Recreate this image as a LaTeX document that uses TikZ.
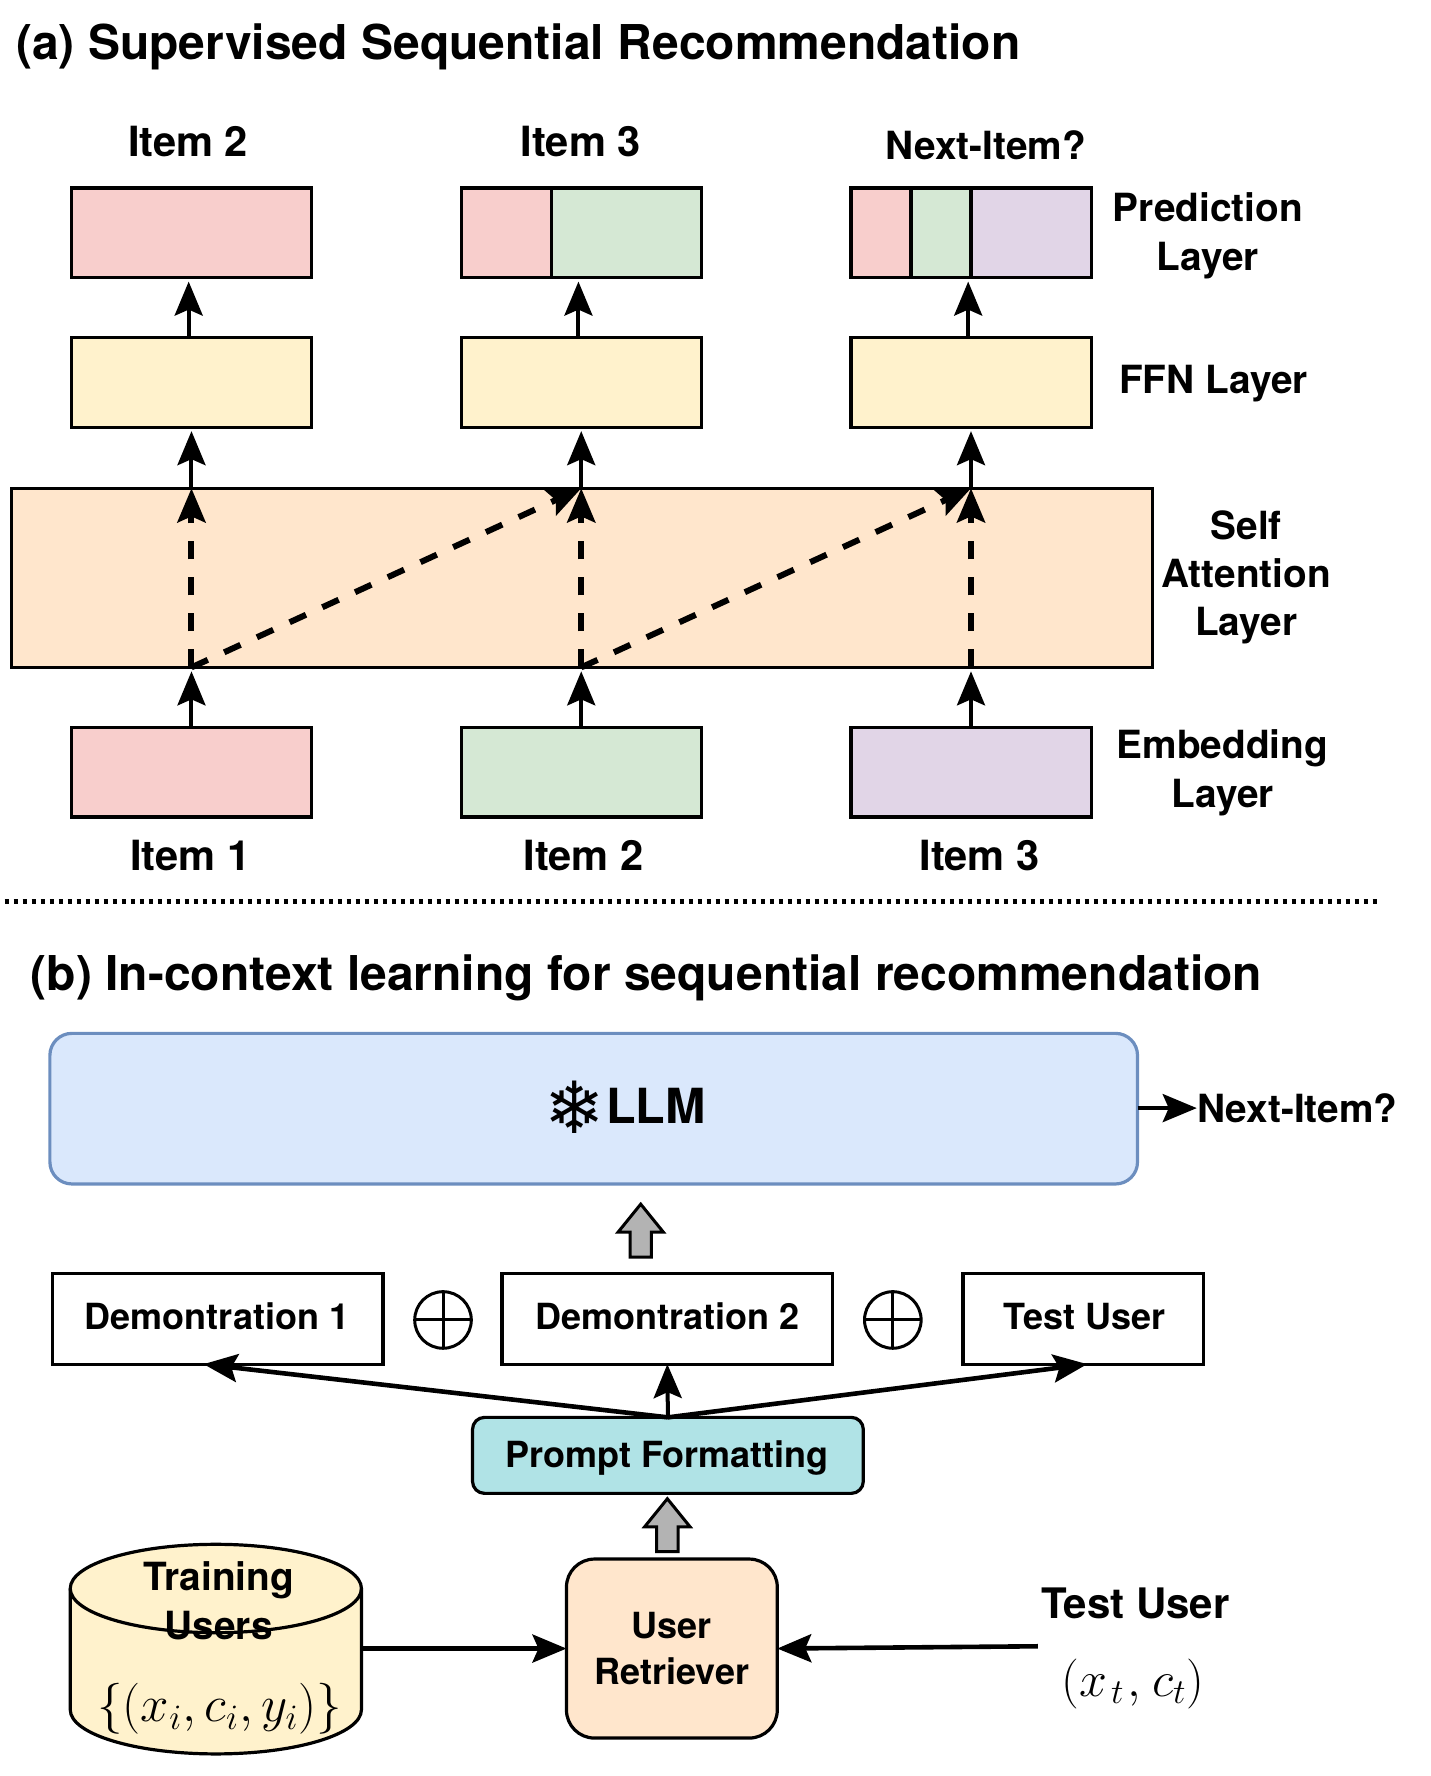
\documentclass[tikz,border=0pt]{standalone}
\usepackage{fix-cm}
\usepackage{fontspec}
\setmainfont{TeX Gyre Heros}
\newfontfamily\snowfont{DejaVu Sans}
\usetikzlibrary{arrows.meta,shapes.arrows}
\definecolor{cpink}{HTML}{F8CECC}
\definecolor{cgreen}{HTML}{D5E8D4}
\definecolor{cpurple}{HTML}{E1D5E7}
\definecolor{cyellow}{HTML}{FFF2CC}
\definecolor{corange}{HTML}{FFE6CC}
\definecolor{cblue}{HTML}{DAE8FC}
\definecolor{cbluedraw}{HTML}{6C8EBF}
\definecolor{cteal}{HTML}{B0E3E6}
\definecolor{cgrey}{HTML}{B3B3B3}
\tikzset{
	box/.style={draw,line width=1.6pt,inner sep=0pt,outer sep=0pt,minimum width=120.1pt,minimum height=44.75pt},
	wbox/.style={draw,line width=1.6pt,inner sep=0pt,outer sep=0pt,minimum height=45.3pt,fill=white},
	lab/.style={font=\bfseries\fontsize{19.4}{24.2}\selectfont,align=center,inner sep=0pt},
	smalllab/.style={font=\bfseries\fontsize{18}{22.6}\selectfont,align=center,inner sep=0pt},
	itemlab/.style={font=\bfseries\fontsize{20.8}{24}\selectfont,inner sep=0pt},
	ttl/.style={font=\bfseries\fontsize{24}{28}\selectfont,inner sep=0pt,anchor=base west},
	arr/.style={-{Stealth[length=17pt,width=14pt,inset=3pt]},line width=2pt},
	fanarr/.style={arr,line width=2.3pt},
	darr/.style={arr,line width=3pt,dash pattern=on 9pt off 9pt},
	oplusmark/.style={circle,draw,line width=1.5pt,minimum size=28.3pt,inner sep=0pt,
		path picture={\draw[line width=1.5pt](path picture bounding box.north)--(path picture bounding box.south)(path picture bounding box.west)--(path picture bounding box.east);}},
	gbar/.style={single arrow,draw,line width=1.5pt,fill=cgrey,shape border rotate=90,inner sep=4.6pt,
		minimum height=26.5pt,single arrow head extend=6pt,single arrow tip angle=78,single arrow head indent=0pt},
}
\begin{document}
\begin{tikzpicture}[x=.5665pt,y=-.5665pt]
	\useasboundingbox(0,0)rectangle(1263,1567.5);
	% part a
	\node[ttl](titleA)at(14,52.5){(a) Supervised Sequential Recommendation};
	\node[box,fill=cpink](pred1)at(169,205.5){};
	\node[box,fill=cgreen](pred2)at(513,205.5){};
	\node[box,fill=cpurple](pred3)at(857,205.5){};
	\coordinate(S2)at(487,0);
	\coordinate(S3)at(804,0);
	\coordinate(S4)at(857,0);
	\draw[line width=1.6pt,fill=cpink](pred2.north west)rectangle(S2|-pred2.south);
	\draw[line width=1.6pt,fill=cpink](pred3.north west)rectangle(S3|-pred3.south);
	\draw[line width=1.6pt,fill=cgreen](S3|-pred3.north)rectangle(S4|-pred3.south);
	\foreach\n/\x in{1/169,2/513,3/857}{
		\node[box,fill=cyellow](ffn\n)at(\x,337.5){};
	}
	\node[box,fill=corange,minimum width=570.5pt,minimum height=89.5pt](attn)at(513.5,510){};
	\node[box,fill=cpink](emb1)at(169,681.5){};
	\node[box,fill=cgreen](emb2)at(513,681.5){};
	\node[box,fill=cpurple](emb3)at(857,681.5){};
	\foreach\n in{1,2,3}{
		\draw[arr]([xshift=-1.4pt]ffn\n.north)--([xshift=-1.4pt,yshift=-2pt]pred\n.south);
		\draw[arr](ffn\n.south|-attn.north)--([yshift=-2pt]ffn\n.south);
		\draw[arr](emb\n.north)--([yshift=-2pt]emb\n.north|-attn.south);
		\draw[darr](emb\n.north|-attn.south)--(emb\n.north|-attn.north);
	}
	\draw[darr](emb1.north|-attn.south)--(emb2.north|-attn.north);
	\draw[darr](emb2.north|-attn.south)--(emb3.north|-attn.north);
	\node[itemlab](top1)at(166,125){Item 2};
	\node[itemlab](top2)at(512.5,125){Item 3};
	\node[lab](top3)at(870,128){Next-Item?};
	\node[lab](lPred)at(1066,208){Prediction\\Layer};
	\node[lab](lFfn)at(1071,339){FFN Layer};
	\node[lab](lAttn)at(1100,509.5){Self\\Attention\\Layer};
	\node[lab](lEmb)at(1079,682){Embedding\\Layer};
	\node[itemlab](bot1)at(168,755){Item 1};
	\node[itemlab](bot2)at(515,755){Item 2};
	\node[itemlab](bot3)at(864.5,755){Item 3};
	\coordinate(D1)at(4,796);
	\coordinate(D2)at(1216,796);
	\draw[line width=2.6pt,dash pattern=on 2.2pt off 2.3pt](D1)--(D2);
	% part b
	\node[ttl](titleB)at(27,874){(b) In-context learning for sequential recommendation};
	\node[draw=cbluedraw,fill=cblue,line width=1.6pt,rounded corners=11pt,inner sep=0pt,outer sep=0pt,minimum width=543.8pt,minimum height=75.3pt](llm)at(524,978.5){};
	\node[inner sep=0pt,font=\bfseries\fontsize{24.2}{28}\selectfont](llmtext)at(579,976){LLM};
	\node[inner sep=0pt,font=\bfseries\snowfont\fontsize{36}{40}\selectfont](snow)at(507,977){❄};
	\node[lab](nextB)at(1145,978){Next-Item?};
	\draw[arr](llm.east|-nextB.west)--(nextB.west);
	\node[gbar](up1)at(565.5,1092){};
	\node[wbox,minimum width=165.4pt](demo1)at(192,1164){};
	\node[wbox,minimum width=165.4pt](demo2)at(589,1164){};
	\node[wbox,minimum width=120.1pt](demo3)at(956,1164){};
	\node[smalllab](tDemo1)at(191.5,1162){Demontration 1};
	\node[smalllab](tDemo2)at(589,1162){Demontration 2};
	\node[smalllab](tDemo3)at(957,1162){Test User};
	\node[oplusmark](plus1)at(391,1165){};
	\node[oplusmark](plus2)at(788,1165){};
	\node[draw,fill=cteal,line width=1.6pt,rounded corners=6pt,inner sep=0pt,outer sep=0pt,minimum width=195.4pt,minimum height=38pt](prompt)at(589.5,1284.5){};
	\node[smalllab](lPrompt)at(588.5,1287){Prompt Formatting};
	\draw[fanarr](prompt.north)--([xshift=-7pt]demo1.south);
	\draw[fanarr](prompt.north)--([xshift=2pt]demo3.south);
	\draw[arr](prompt.north)--(demo2.south);
	\node[gbar](up2)at(589,1352){};
	\coordinate(trainE)at(319,1455);
	\draw[fill=cyellow,line width=1.6pt](62,1402)--(62,1509)arc[start angle=180,end angle=0,x radius=128.5,y radius=39]--(319,1402)arc[start angle=0,end angle=-180,x radius=128.5,y radius=39]--cycle;
	\draw[line width=1.6pt](62,1402)arc[start angle=180,end angle=0,x radius=128.5,y radius=39];
	\node[lab](lTrain)at(193,1413){Training\\Users};
	\node[inner sep=0pt,font=\fontsize{25.5}{28}\selectfont](lSet)at(194,1508){$\{(x_i,c_i,y_i)\}$};
	\node[draw,fill=corange,line width=1.6pt,rounded corners=14pt,inner sep=0pt,outer sep=0pt,minimum width=105.4pt,minimum height=89.5pt](retr)at(593,1455){};
	\node[smalllab](lRetr)at(593,1455){User\\Retriever};
	\node[itemlab,font=\bfseries\fontsize{21}{24}\selectfont](lTest)at(1002,1415){Test User};
	\node[inner sep=0pt,font=\fontsize{25}{28}\selectfont](lXc)at(1000,1486){$(x_{\mkern2mu t}\mkern1mu,\mkern1mu c_t)$};
	\coordinate(T)at(916,1453);
	\draw[fanarr](trainE)--(retr.west);
	\draw[fanarr](T)--(retr.east);
\end{tikzpicture}
\end{document}
